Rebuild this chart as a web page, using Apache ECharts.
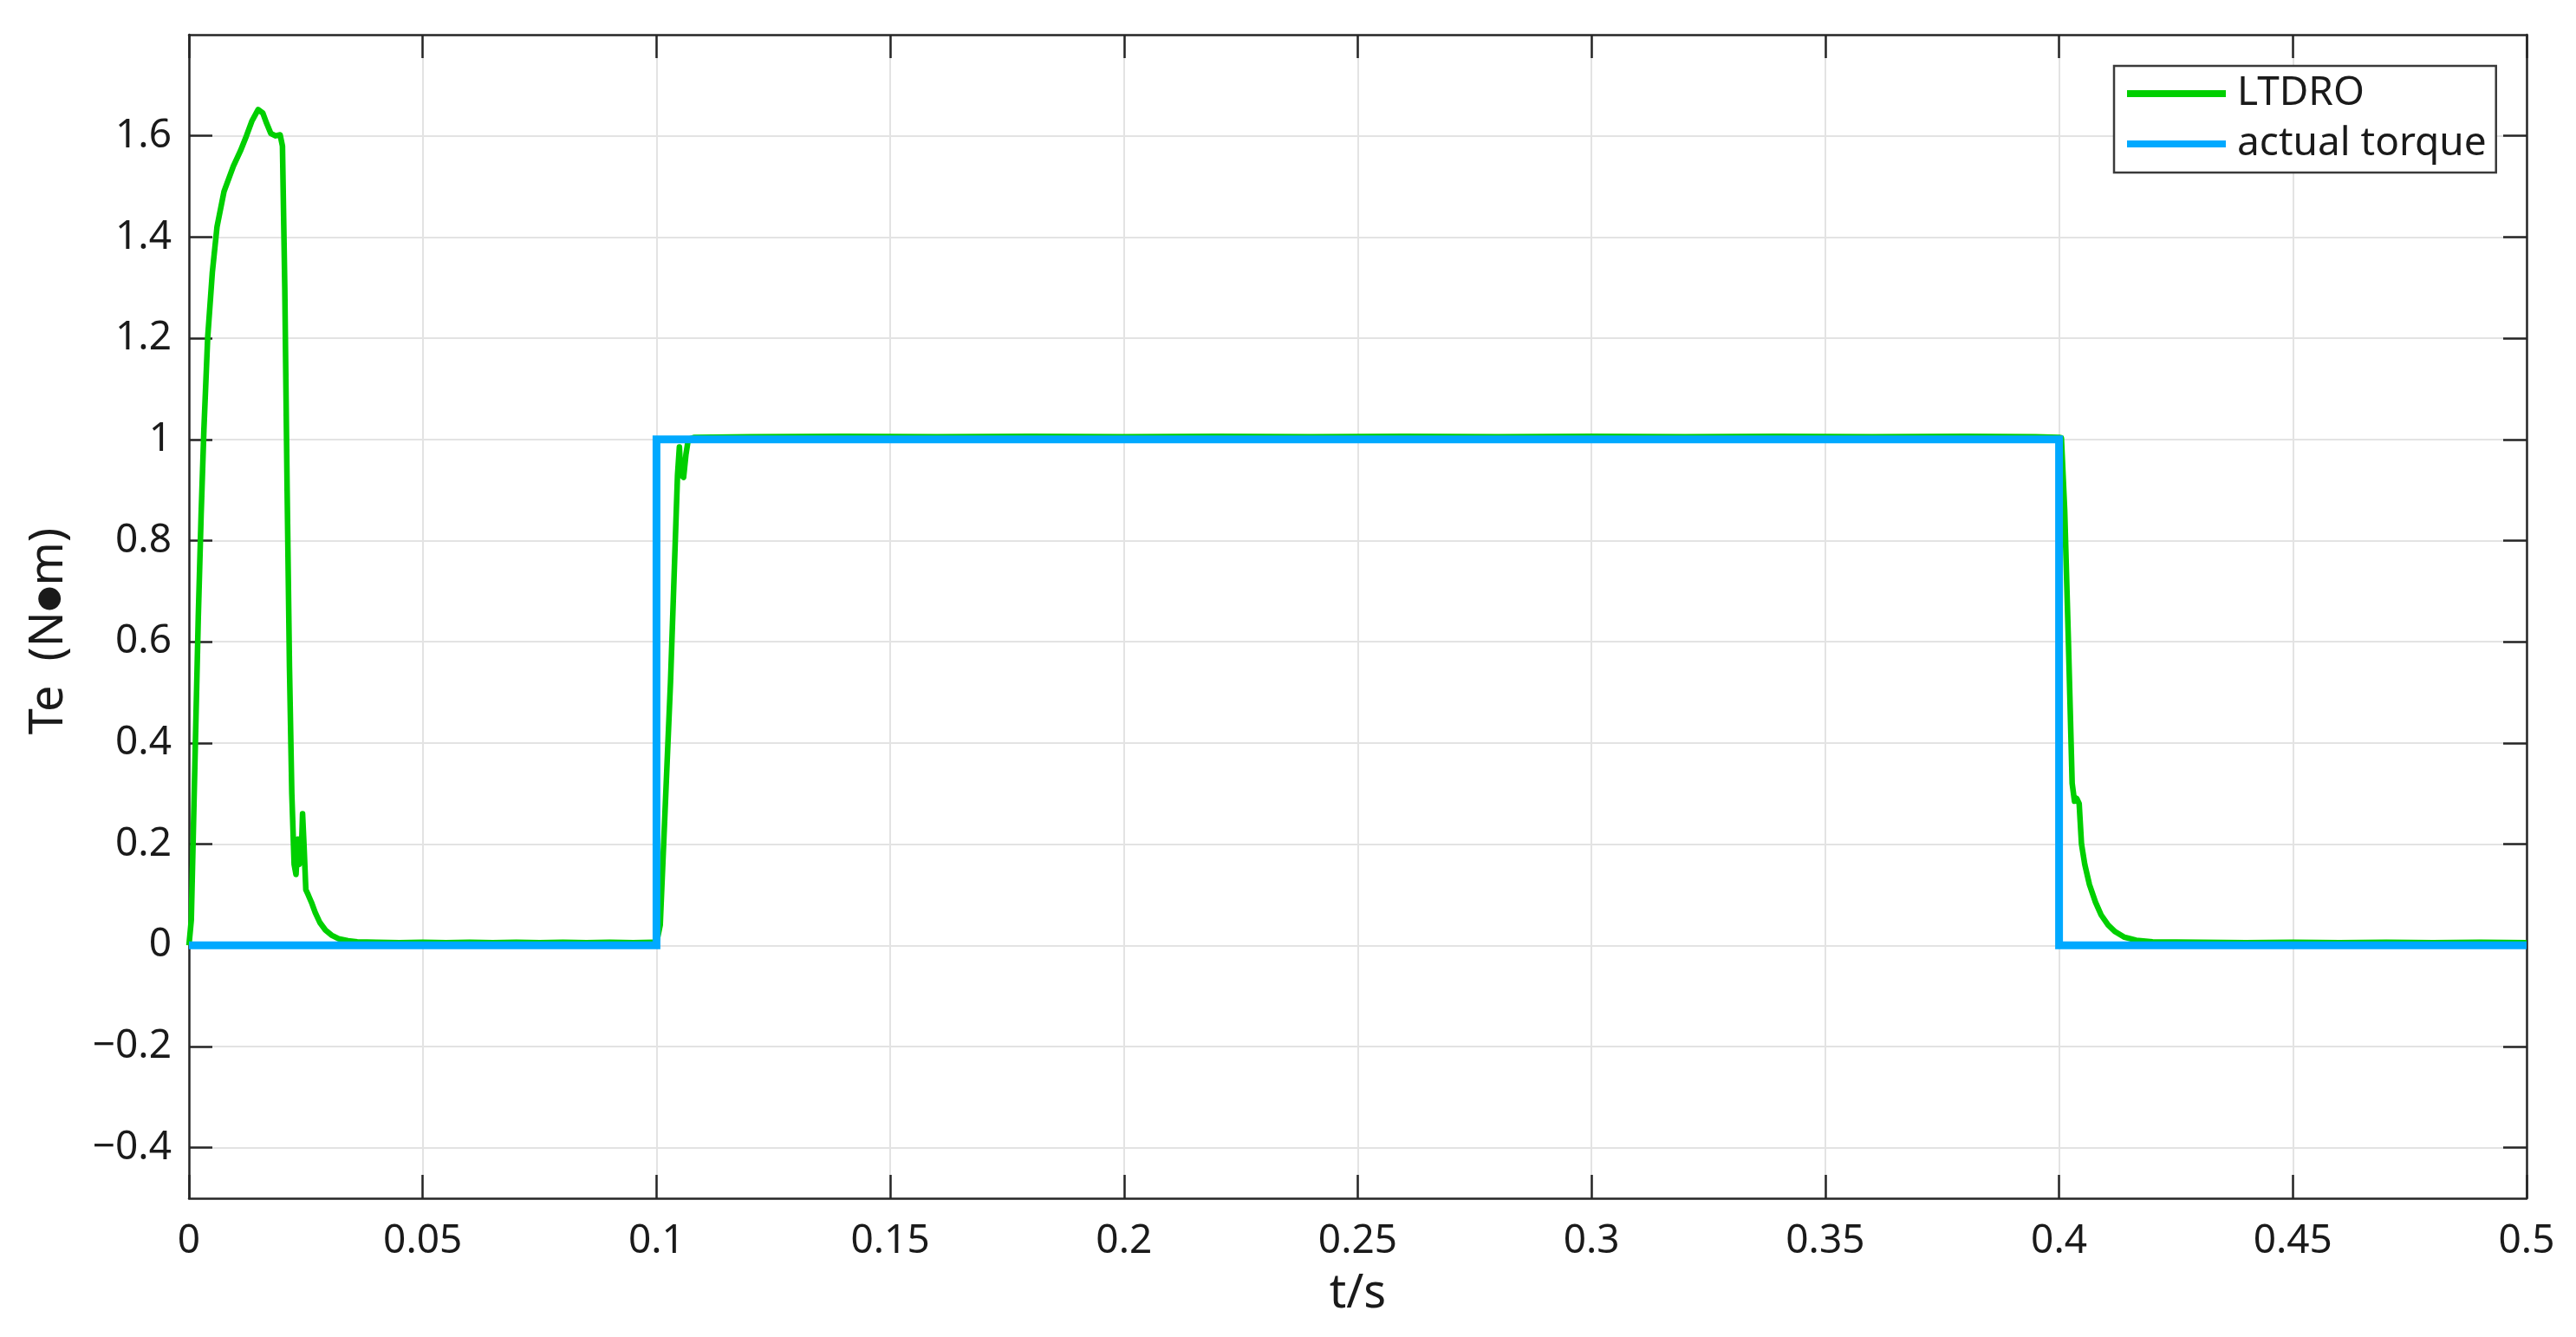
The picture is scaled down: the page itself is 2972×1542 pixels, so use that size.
<!DOCTYPE html>
<html>
<head>
<meta charset="utf-8">
<script src="https://cdn.jsdelivr.net/npm/echarts@6/dist/echarts.min.js"></script>
<style>
html,body{margin:0;padding:0;background:#fff;}
#chart{width:2972px;height:1542px;}
</style>
</head>
<body>
<div id="chart"></div>
<script>
// ---- data ----
const seriesNames = ['LTDRO', 'actual torque'];

const ltdroT = [
  0, 0.0005, 0.001, 0.0015, 0.002, 0.0026, 0.0032, 0.004, 0.005, 0.006, 0.0075, 0.0095, 0.011, 0.0123, 0.0135, 0.0148, 0.0158, 0.0166, 0.0175, 0.0185, 0.0195,
  0.0200, 0.0205, 0.0210, 0.0215, 0.0220, 0.0225, 0.0229, 0.0233, 0.0236, 0.0240, 0.0243, 0.0246, 0.0250, 0.0255, 0.0262, 0.0270, 0.0280, 0.0292, 0.0305, 0.032, 0.034, 0.036,
  0.04, 0.045, 0.05, 0.055, 0.06, 0.065, 0.07, 0.075, 0.08, 0.085, 0.09, 0.095, 0.0995,
  0.1, 0.1008, 0.103, 0.1045, 0.1049, 0.1052, 0.1058, 0.1063, 0.1068, 0.108,
  0.12, 0.14, 0.16, 0.18, 0.2, 0.22, 0.24, 0.26, 0.28, 0.3, 0.32, 0.34, 0.36, 0.38, 0.395, 0.4,
  0.4005, 0.4012, 0.402, 0.4028, 0.4033, 0.4038, 0.4043, 0.4048, 0.4055, 0.4065, 0.4078, 0.409, 0.4105, 0.412, 0.414, 0.4165, 0.42,
  0.43, 0.44, 0.45, 0.46, 0.47, 0.48, 0.49, 0.5
];
const ltdroV = [
  0, 0.05, 0.25, 0.45, 0.65, 0.85, 1.02, 1.2, 1.33, 1.42, 1.49, 1.54, 1.57, 1.6, 1.63, 1.652, 1.645, 1.625, 1.605, 1.6, 1.602,
  1.58, 1.3, 0.9, 0.55, 0.3, 0.16, 0.14, 0.21, 0.16, 0.17, 0.26, 0.2, 0.11, 0.1, 0.085, 0.065, 0.045, 0.03, 0.02, 0.013, 0.009, 0.007,
  0.006, 0.005, 0.006, 0.005, 0.006, 0.005, 0.006, 0.005, 0.006, 0.005, 0.006, 0.005, 0.006,
  0.004, 0.04, 0.52, 0.93, 0.985, 0.93, 0.925, 0.97, 1.0, 1.004,
  1.005, 1.006, 1.005, 1.006, 1.005, 1.006, 1.005, 1.006, 1.005, 1.006, 1.005, 1.006, 1.005, 1.006, 1.005, 1.004,
  1.003, 0.86, 0.6, 0.32, 0.285, 0.29, 0.28, 0.2, 0.16, 0.12, 0.085, 0.06, 0.04, 0.027, 0.016, 0.01, 0.007,
  0.006, 0.005, 0.006, 0.005, 0.006, 0.005, 0.006, 0.005
];

const torqueT = [0, 0.1, 0.1, 0.4, 0.4, 0.5];
const torqueV = [0, 0, 1, 1, 0, 0];

const xTicks = [0, 0.05, 0.1, 0.15, 0.2, 0.25, 0.3, 0.35, 0.4, 0.45, 0.5];
const yTicks = [-0.4, -0.2, 0, 0.2, 0.4, 0.6, 0.8, 1, 1.2, 1.4, 1.6];

// ---- chart ----
const FONT = 'Noto Sans';
const FS = 46;
const NAME_FS = 54;
const TEXT_COLOR = '#1a1a1a';
const AXIS_COLOR = '#262626';
const chart = echarts.init(document.getElementById('chart'));

const zip = (a, b) => a.map((v, i) => [v, b[i]]);
const fmtY = v => {
  const r = Math.round(v * 10) / 10;
  return r < 0 ? '\u2212' + Math.abs(r) : String(r);
};
const fmtX = v => String(Math.round(v * 100) / 100);

const commonX = {
  type: 'value', min: 0, max: 0.5, interval: 0.05,
  axisLine: { show: true, onZero: false, lineStyle: { color: AXIS_COLOR, width: 2.5 } },
  axisTick: { show: true, inside: true, length: 27, customValues: xTicks, lineStyle: { color: AXIS_COLOR, width: 2.5 } }
};
const commonY = {
  type: 'value', min: -0.5, max: 1.8,
  axisLine: { show: true, onZero: false, lineStyle: { color: AXIS_COLOR, width: 2.5 } },
  axisTick: { show: true, inside: true, length: 27, customValues: yTicks, lineStyle: { color: AXIS_COLOR, width: 2.5 } }
};

chart.setOption({
  animation: false,
  backgroundColor: '#ffffff',
  grid: { left: 218, right: 57, top: 40, bottom: 160 },
  legend: {
    data: seriesNames,
    orient: 'vertical',
    left: 2439, top: 76,
    icon: 'rect',
    itemWidth: 114, itemHeight: 8, itemGap: 8,
    padding: [7, 11, 8, 15],
    borderColor: '#3a3a3a', borderWidth: 2.5,
    backgroundColor: '#ffffff',
    textStyle: { fontFamily: FONT, fontSize: FS, lineHeight: 50, color: TEXT_COLOR, padding: [0, 0, 0, 8] }
  },
  xAxis: [
    Object.assign({}, commonX, {
      position: 'bottom',
      name: 't/s', nameLocation: 'middle', nameGap: 84,
      nameTextStyle: { fontFamily: FONT, fontSize: NAME_FS, color: TEXT_COLOR },
      axisLabel: { show: true, customValues: xTicks, margin: 27, fontFamily: FONT, fontSize: FS, color: TEXT_COLOR, formatter: fmtX },
      splitLine: { show: true, lineStyle: { color: '#e3e3e3', width: 2 } }
    }),
    Object.assign({}, commonX, {
      position: 'top',
      axisLabel: { show: false },
      splitLine: { show: false }
    })
  ],
  yAxis: [
    Object.assign({}, commonY, {
      position: 'left',
      name: 'Te  (N{b|\u25CF}m)', nameLocation: 'middle', nameGap: 134,
      nameTextStyle: {
        fontFamily: FONT, fontSize: NAME_FS, color: TEXT_COLOR, padding: [0, 34, 0, 0],
        rich: { b: { fontFamily: 'DejaVu Sans', fontSize: 34, color: TEXT_COLOR } }
      },
      axisLabel: { show: true, customValues: yTicks, margin: 20, fontFamily: FONT, fontSize: FS, color: TEXT_COLOR, formatter: fmtY },
      splitLine: { show: true, lineStyle: { color: '#e3e3e3', width: 2 } }
    }),
    Object.assign({}, commonY, {
      position: 'right',
      axisLabel: { show: false },
      splitLine: { show: false }
    })
  ],
  series: [
    {
      name: seriesNames[0], type: 'line', xAxisIndex: 0, yAxisIndex: 0,
      data: zip(ltdroT, ltdroV),
      showSymbol: false, symbol: 'none',
      color: '#00cf00',
      lineStyle: { color: '#00cf00', width: 6.5, join: 'round' },
      z: 2
    },
    {
      name: seriesNames[1], type: 'line', xAxisIndex: 0, yAxisIndex: 0,
      data: zip(torqueT, torqueV),
      showSymbol: false, symbol: 'none',
      color: '#00a9ff',
      lineStyle: { color: '#00a9ff', width: 9, join: 'miter' },
      z: 3
    }
  ]
});
</script>
</body>
</html>
